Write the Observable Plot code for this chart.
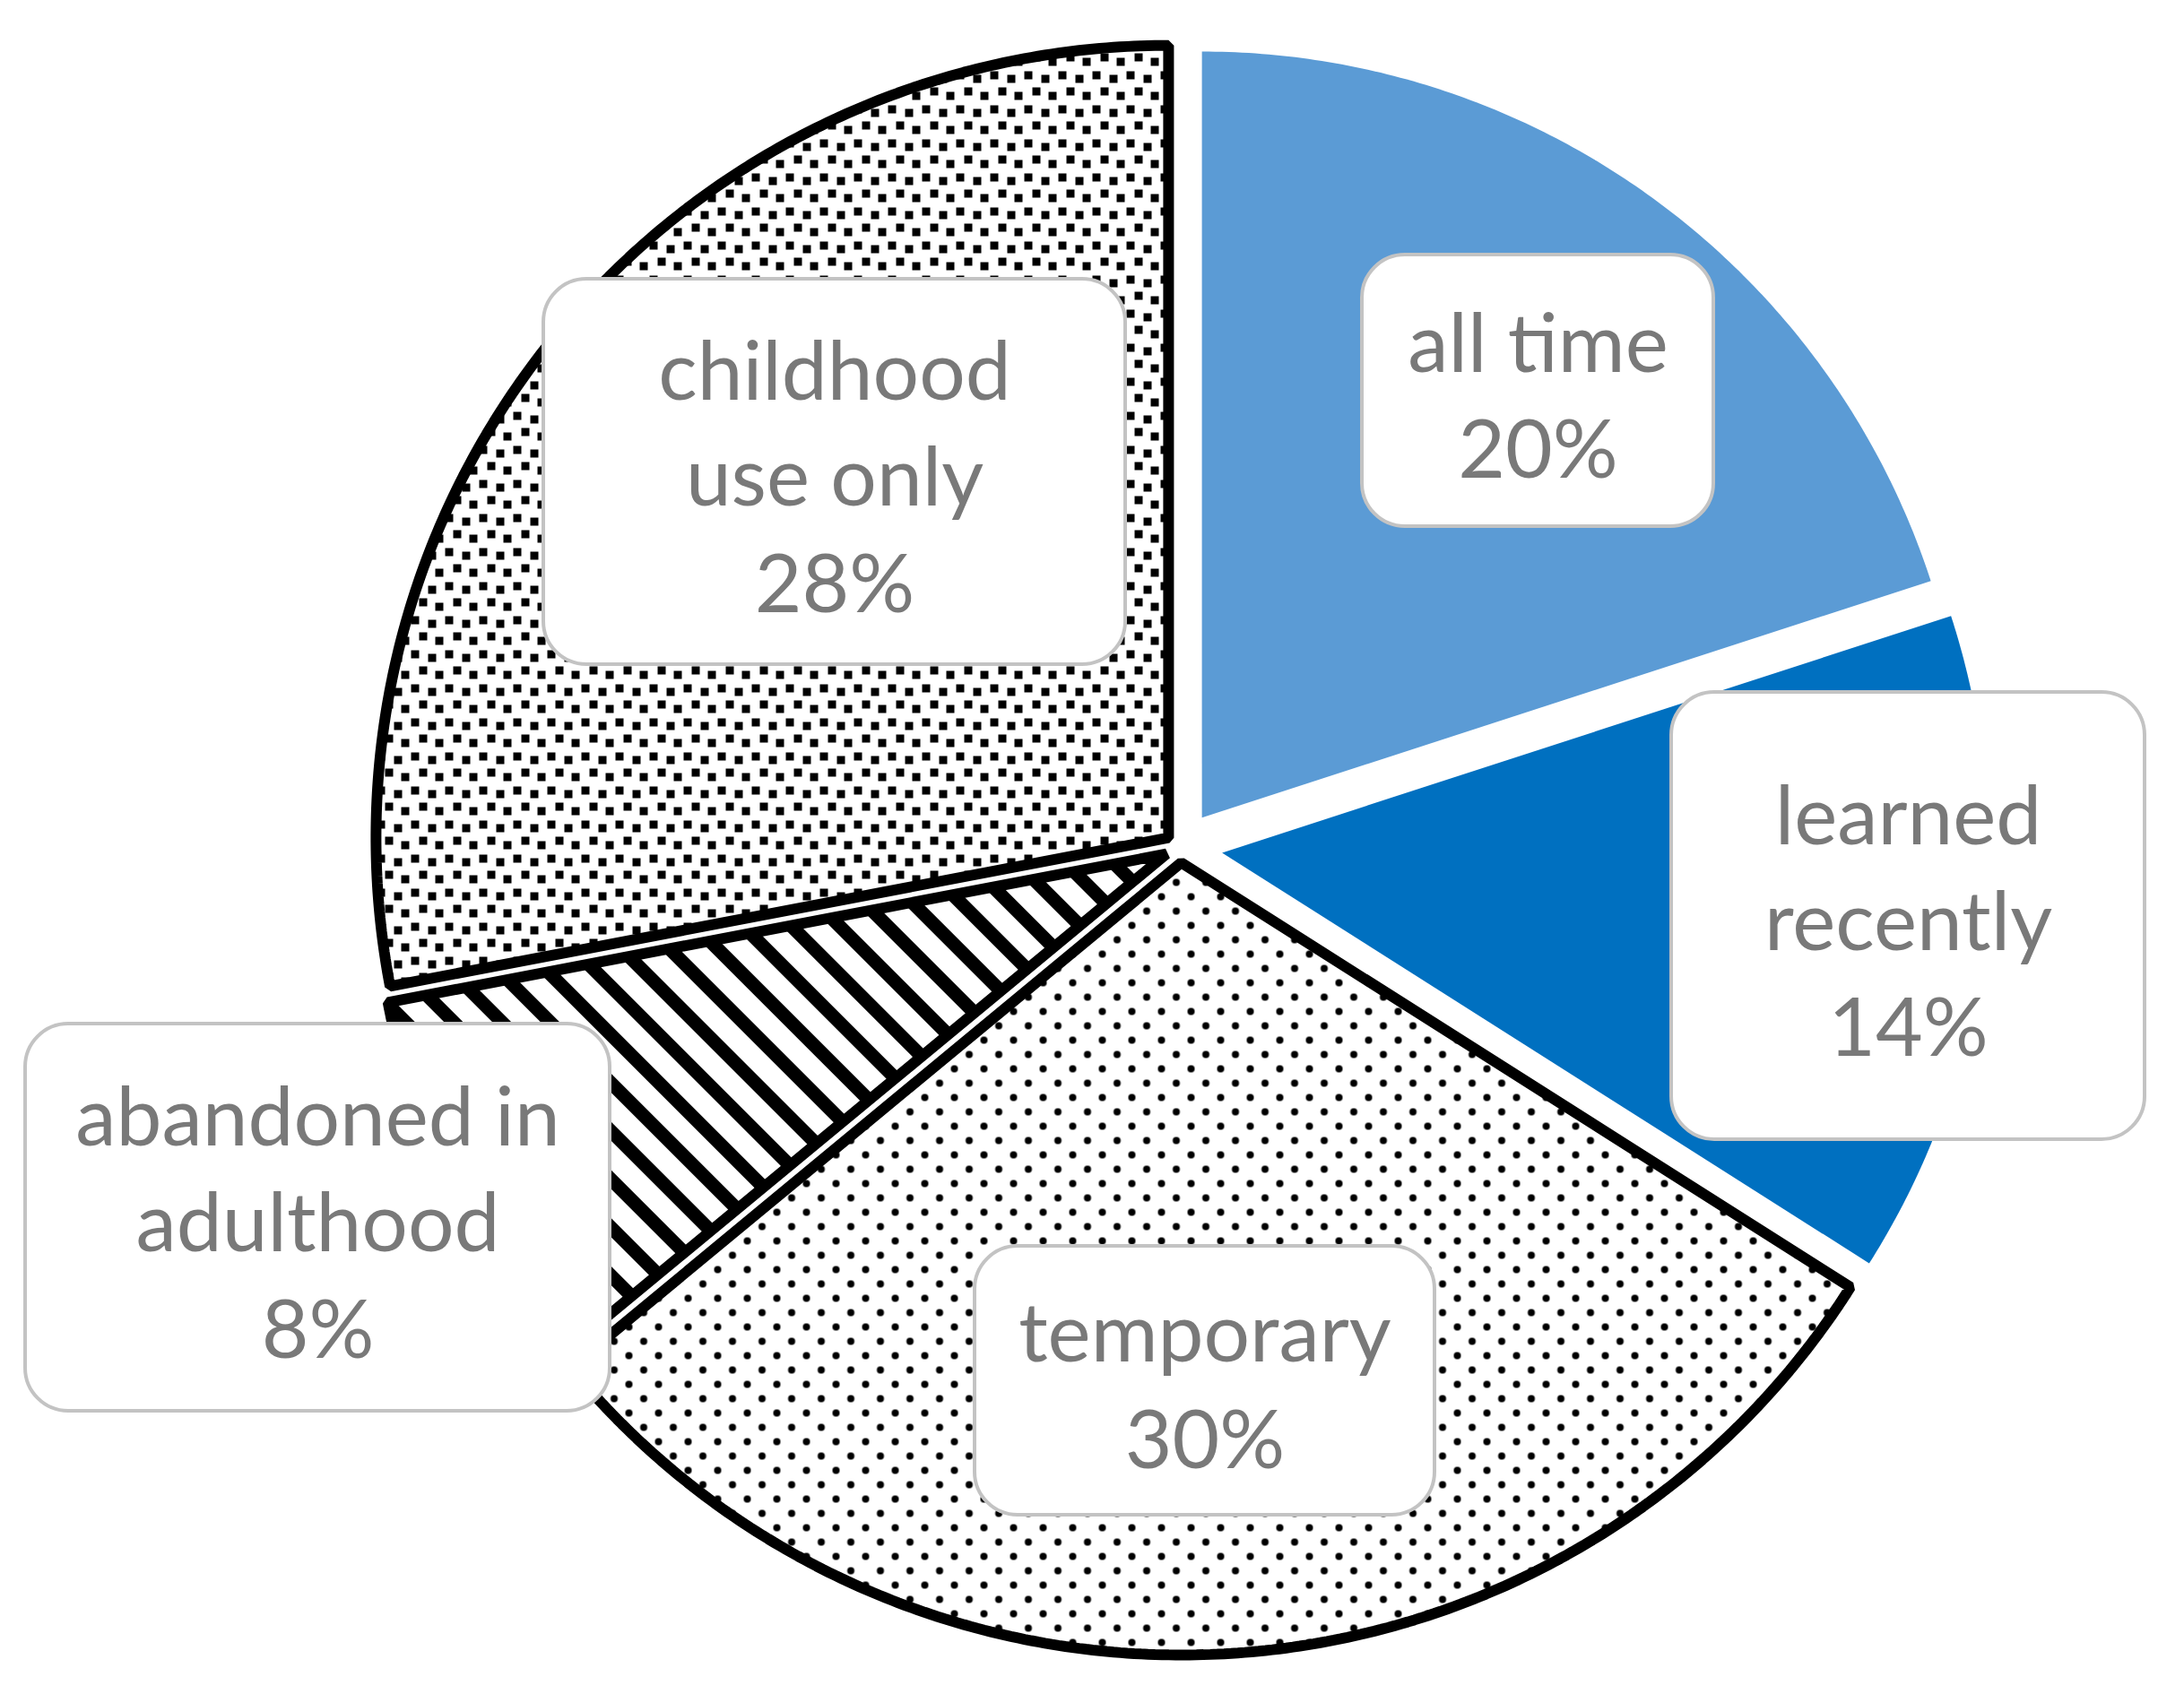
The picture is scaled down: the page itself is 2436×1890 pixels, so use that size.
<!DOCTYPE html>
<html>
<head>
<meta charset="utf-8">
<script src="https://cdn.jsdelivr.net/npm/d3@7"></script>
<script src="https://cdn.jsdelivr.net/npm/@observablehq/plot@0.6"></script>
<style>
  html, body { margin: 0; padding: 0; background: #ffffff; }
  #chart svg { display: block; }
</style>
</head>
<body>
<div id="chart"></div>
<script>
// ---- data ----
const categories = ["all time", "learned recently", "temporary", "abandoned in adulthood", "childhood use only"];
const shares = [20, 14, 30, 8, 28];
const labelTexts = ["all time\n20%", "learned\nrecently\n14%", "temporary\n30%", "abandoned in\nadulthood\n8%", "childhood\nuse only\n28%"];

// ---- layout / style ----
const W = 2436, H = 1890;
const CX = 1316, CY = 945, R = 884;          // pie centre and radius in px
const explodePx = [41, 47, 17, 17, 17];      // slice explosion
const radiusScale = [0.967, 0.967, 1, 1, 1];
const labelBoxesPx = [                        // [left, top, right, bottom]
  [1519, 284, 1911, 587],
  [1864, 772, 2392, 1271],
  [1087, 1390, 1600, 1690],
  [28, 1142, 680, 1574],
  [606, 311, 1255, 741]
];
const fills = ["#5b9bd5", "#0070c0", "url(#pat-dots)", "url(#pat-stripes)", "url(#pat-confetti)"];
const outlined = new Set(["temporary", "abandoned in adulthood", "childhood use only"]);

// ---- geometry via d3.pie ----
const arcs = d3.pie().sort(null).value(d => d)(shares);
const slicePoints = [];
arcs.forEach((a, i) => {
  const cat = categories[i];
  const mid = (a.startAngle + a.endAngle) / 2;
  const off = explodePx[i] / R;
  const ox = off * Math.sin(mid), oy = off * Math.cos(mid);
  const r = radiusScale[i];
  const n = Math.ceil((a.endAngle - a.startAngle) / (Math.PI / 360));
  slicePoints.push({category: cat, x: ox, y: oy});
  for (let k = 0; k <= n; k++) {
    const t = a.startAngle + (a.endAngle - a.startAngle) * k / n;
    slicePoints.push({category: cat, x: ox + r * Math.sin(t), y: oy + r * Math.cos(t)});
  }
});

const labels = categories.map((c, i) => {
  const [l, t, rr, b] = labelBoxesPx[i];
  return {
    category: c,
    text: labelTexts[i],
    x1: (l - CX) / R, x2: (rr - CX) / R,
    y1: (CY - b) / R, y2: (CY - t) / R,
    cx: ((l + rr) / 2 - CX) / R, cy: (CY - (t + b) / 2) / R
  };
});

const chart = Plot.plot({
  width: W,
  height: H,
  margin: 0,
  x: {domain: [-CX / R, (W - CX) / R], axis: null},
  y: {domain: [-(H - CY) / R, CY / R], axis: null},
  color: {type: "ordinal", domain: categories, range: fills},
  marks: [
    Plot.line(slicePoints.filter(d => !outlined.has(d.category)), {
      x: "x", y: "y", z: "category", fill: "category", stroke: "none", curve: "linear-closed"
    }),
    Plot.line(slicePoints.filter(d => outlined.has(d.category)), {
      x: "x", y: "y", z: "category", fill: "category", stroke: "black",
      strokeWidth: 12, strokeLinejoin: "miter", curve: "linear-closed"
    }),
    Plot.rect(labels, {
      x1: "x1", x2: "x2", y1: "y1", y2: "y2",
      fill: "white", stroke: "#c3c3c3", strokeWidth: 4, rx: 48
    }),
    Plot.text(labels, {
      x: "cx", y: "cy", text: "text",
      fill: "#797979", fontSize: 91, lineHeight: 1.3,
      fontFamily: "Lato, 'Open Sans', sans-serif", textAnchor: "middle"
    })
  ]
});

// pattern definitions
const defs = document.createElementNS("http://www.w3.org/2000/svg", "defs");
defs.innerHTML = `
  <pattern id="pat-dots" patternUnits="userSpaceOnUse" width="33" height="32">
    <rect width="33" height="32" fill="white"/>
    <circle cx="8" cy="8" r="4" fill="black"/>
    <circle cx="24.5" cy="24" r="4" fill="black"/>
  </pattern>
  <pattern id="pat-stripes" patternUnits="userSpaceOnUse" width="38" height="38" patternTransform="rotate(-45)">
    <rect width="38" height="38" fill="white"/>
    <rect width="15" height="38" fill="black"/>
  </pattern>
  <pattern id="pat-confetti" patternUnits="userSpaceOnUse" width="38" height="38">
    <rect width="38" height="38" fill="white"/>
    <rect x="2" y="3" width="9" height="9" fill="black"/>
    <rect x="21" y="7" width="9" height="9" fill="black"/>
    <rect x="11" y="21" width="9" height="9" fill="black"/>
    <rect x="29" y="26" width="9" height="9" fill="black"/>
  </pattern>`;
chart.insertBefore(defs, chart.firstChild);

document.getElementById("chart").appendChild(chart);
</script>
</body>
</html>
